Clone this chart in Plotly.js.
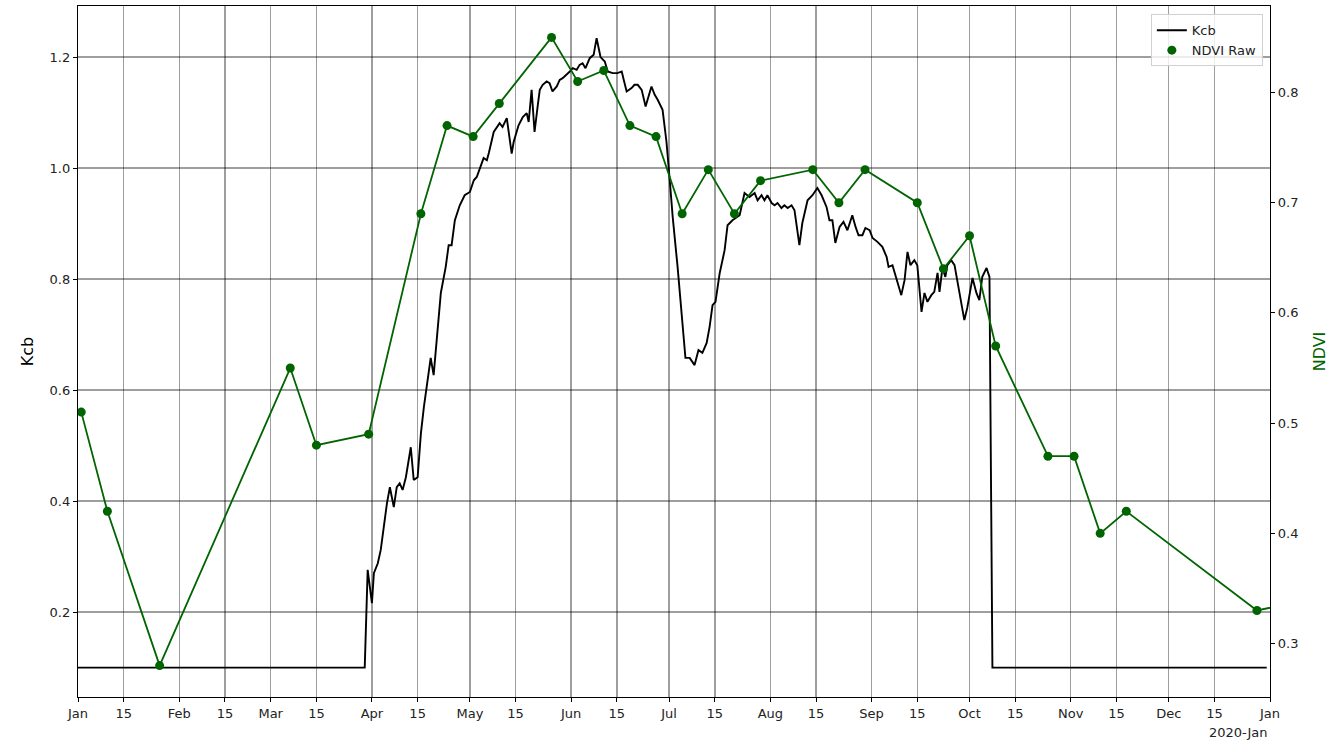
<!DOCTYPE html>
<html>
<head>
<meta charset="utf-8">
<script src="https://cdn.plot.ly/plotly-3.0.1.min.js"></script>
<style>
html,body{margin:0;padding:0;background:#fff;}
#chart{width:1329px;height:740px;}
</style>
</head>
<body>
<div id="chart"></div>
<script>
// Kcb: day offset from 2019-01-01 and value
const kcbDay = [0,87.8,88.7,90.0,90.6,91.8,92.7,93.6,94.6,95.5,96.7,97.6,98.5,99.4,100.4,101.9,102.8,104.0,105.0,105.9,107.1,108.0,108.9,109.9,111.1,112.6,113.5,114.4,115.4,116.9,118.4,120.0,121.2,122.1,123.0,124.2,125.2,125.8,127.3,128.2,129.1,130.0,131.3,132.8,133.4,134.9,136.2,137.4,138.0,138.9,139.8,140.8,141.4,142.3,143.5,144.4,145.3,146.6,147.5,148.4,149.6,150.6,151.5,152.7,153.6,154.5,155.4,156.7,157.9,158.8,160.0,161.3,162.2,163.7,165.2,166.5,167.1,168.0,169.5,170.4,171.4,172.6,173.8,175.0,175.6,176.6,177.5,179.0,180.2,181.2,182.1,183.6,184.8,186.0,187.3,188.8,190.0,191.2,192.5,193.4,194.3,195.2,196.5,198.0,198.9,200.4,202.6,204.1,205.6,207.2,208.1,209.3,210.2,211.1,212.4,213.3,214.2,215.4,216.3,217.3,218.5,219.4,220.9,221.8,223.4,224.9,226.4,227.7,229.2,230.1,231.0,231.9,233.2,234.4,235.6,237.1,238.1,239.0,240.2,241.1,242.4,243.3,244.8,246.3,247.6,248.2,249.4,250.6,252.1,253.1,254.0,254.9,256.1,257.0,258.3,259.2,260.1,261.3,262.2,263.2,263.8,264.7,265.6,266.2,267.4,268.4,269.3,270.5,271.4,272.3,273.9,275.1,276.0,276.9,278.2,279.1,280.0,364];
const kcbValue = [0.1,0.1,0.276,0.216,0.27,0.288,0.312,0.353,0.396,0.425,0.389,0.425,0.432,0.42,0.443,0.497,0.438,0.443,0.522,0.569,0.623,0.658,0.627,0.695,0.775,0.822,0.861,0.861,0.906,0.933,0.951,0.957,0.978,0.984,1.0,1.018,1.014,1.027,1.065,1.072,1.081,1.074,1.09,1.026,1.047,1.077,1.092,1.099,1.083,1.141,1.065,1.114,1.141,1.15,1.156,1.153,1.138,1.147,1.159,1.162,1.168,1.174,1.18,1.177,1.186,1.189,1.18,1.198,1.204,1.234,1.2,1.192,1.174,1.171,1.171,1.174,1.159,1.138,1.144,1.15,1.15,1.141,1.111,1.138,1.147,1.132,1.123,1.105,1.047,0.978,0.912,0.822,0.744,0.658,0.658,0.645,0.672,0.667,0.685,0.714,0.753,0.759,0.811,0.852,0.897,0.906,0.915,0.955,0.948,0.955,0.942,0.951,0.942,0.951,0.937,0.933,0.937,0.928,0.933,0.928,0.933,0.924,0.861,0.901,0.942,0.951,0.964,0.951,0.93,0.906,0.906,0.865,0.894,0.903,0.888,0.915,0.894,0.879,0.879,0.892,0.888,0.874,0.867,0.858,0.84,0.822,0.825,0.802,0.771,0.798,0.849,0.825,0.834,0.825,0.741,0.775,0.759,0.771,0.777,0.811,0.777,0.82,0.804,0.825,0.834,0.825,0.793,0.75,0.726,0.748,0.802,0.775,0.762,0.804,0.82,0.804,0.1,0.1];

// NDVI raw observations
const ndviDates = ['2019-01-02','2019-01-10','2019-01-26','2019-03-07','2019-03-15','2019-03-31','2019-04-16','2019-04-24','2019-05-02','2019-05-10','2019-05-26','2019-06-03','2019-06-11','2019-06-19','2019-06-27','2019-07-05','2019-07-13','2019-07-21','2019-07-29','2019-08-14','2019-08-22','2019-08-30','2019-09-15','2019-09-23','2019-10-01','2019-10-09','2019-10-25','2019-11-02','2019-11-10','2019-11-18','2019-12-28','2020-01-05'];
const ndviValue = [0.51,0.42,0.28,0.55,0.48,0.49,0.69,0.77,0.76,0.79,0.85,0.81,0.82,0.77,0.76,0.69,0.73,0.69,0.72,0.73,0.70,0.73,0.70,0.64,0.67,0.57,0.47,0.47,0.40,0.42,0.33,0.335];

// x tick positions and labels
const tickDates = ['2019-01-01','2019-01-15','2019-02-01','2019-02-15','2019-03-01','2019-03-15','2019-04-01','2019-04-15','2019-05-01','2019-05-15','2019-06-01','2019-06-15','2019-07-01','2019-07-15','2019-08-01','2019-08-15','2019-09-01','2019-09-15','2019-10-01','2019-10-15','2019-11-01','2019-11-15','2019-12-01','2019-12-15','2020-01-01'];
const tickLabels = ['Jan','15','Feb','15','Mar','15','Apr','15','May','15','Jun','15','Jul','15','Aug','15','Sep','15','Oct','15','Nov','15','Dec','15','Jan'];
const kcbTicks = [0.2,0.4,0.6,0.8,1.0,1.2];
const ndviTicks = [0.3,0.4,0.5,0.6,0.7,0.8];

function dayToDate(d){
  const iso = new Date(Date.UTC(2019,0,1) + d*86400000).toISOString();
  return iso.slice(0,10) + ' ' + iso.slice(11,19);
}
const kcbDates = kcbDay.map(dayToDate);

const green = '#006400';
const font = {family:'DejaVu Sans, sans-serif', size:13, color:'#222'};
const gridCol = 'rgba(0,0,0,0.38)';

const traces = [
  {x:kcbDates, y:kcbValue, type:'scatter', mode:'lines', name:'Kcb',
   line:{color:'#000', width:1.9}, xaxis:'x', yaxis:'y'},
  {x:ndviDates, y:ndviValue, type:'scatter', mode:'lines', name:'NDVI line', showlegend:false,
   line:{color:green, width:1.8}, xaxis:'x', yaxis:'y2', hoverinfo:'skip'},
  {x:ndviDates, y:ndviValue, type:'scatter', mode:'markers', name:'NDVI Raw',
   marker:{color:green, size:9}, xaxis:'x', yaxis:'y2'}
];

const layout = {
  width:1329, height:740,
  margin:{l:78, r:59, t:6, b:43},
  paper_bgcolor:'#fff', plot_bgcolor:'#fff',
  font:font,
  showlegend:true,
  legend:{x:0.994, y:0.988, xanchor:'right', yanchor:'top',
    bgcolor:'rgba(255,255,255,0.8)', bordercolor:'#d0d0d0', borderwidth:1,
    font:{family:'DejaVu Sans, sans-serif', size:13, color:'#222'}, tracegroupgap:2},
  xaxis:{type:'date', range:['2019-01-01','2020-01-01'],
    tickmode:'array', tickvals:tickDates, ticktext:tickLabels,
    showgrid:true, gridcolor:gridCol, gridwidth:1.4,
    showline:true, linecolor:'#000', linewidth:1.2, mirror:true,
    ticks:'outside', ticklen:4, tickcolor:'#000', zeroline:false,
    tickfont:font, automargin:false},
  yaxis:{range:[0.047,1.292], tickmode:'array', tickvals:kcbTicks, ticktext:kcbTicks.map(v=>v.toFixed(1)),
    showgrid:true, gridcolor:gridCol, gridwidth:1.4,
    showline:true, linecolor:'#000', linewidth:1.2, mirror:false,
    ticks:'outside', ticklen:4, tickcolor:'#000', zeroline:false,
    tickfont:font, automargin:false,
    title:{text:'Kcb', font:{family:'DejaVu Sans, sans-serif', size:16, color:'#000'}, standoff:12}},
  yaxis2:{range:[0.2515,0.8785], overlaying:'y', side:'right',
    tickmode:'array', tickvals:ndviTicks, ticktext:ndviTicks.map(v=>v.toFixed(1)),
    showgrid:false, showline:true, linecolor:'#000', linewidth:1.2,
    ticks:'outside', ticklen:4, tickcolor:'#000', zeroline:false,
    tickfont:font, automargin:false,
    title:{text:'NDVI', font:{family:'DejaVu Sans, sans-serif', size:16, color:green}, standoff:19}},
  annotations:[
    {text:'2020-Jan', xref:'paper', yref:'paper', x:1.0, y:-0.052, xanchor:'right', yanchor:'middle',
     showarrow:false, font:font}
  ]
};

Plotly.newPlot('chart', traces, layout, {displayModeBar:false, staticPlot:true});
</script>
</body>
</html>
